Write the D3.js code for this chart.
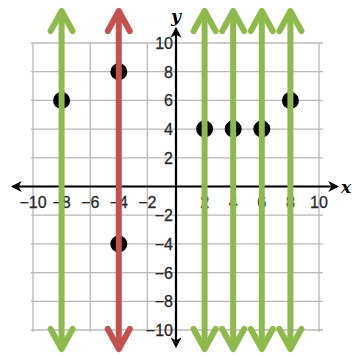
<!DOCTYPE html>
<html>
<head>
<meta charset="utf-8">
<script src="https://cdn.jsdelivr.net/npm/d3@7"></script>
<style>
  body { margin: 0; background: white; }
  .grid { stroke: #b8b8b8; stroke-width: 1.3; }
  .axis { stroke: black; stroke-width: 2.2; }
  .tick { font-family: "Liberation Sans", Arial, sans-serif; font-size: 16px; fill: #2a2a2a; stroke: #2a2a2a; stroke-width: 0.3; }
  .green { stroke: #8db94d; }
  .red { stroke: #c4504f; }
</style>
</head>
<body>
<div id="chart"></div>
<script>
// points
var pointsX = [-8, -4, -4, 2, 4, 6, 8];
var pointsY = [6, 8, -4, 4, 4, 4, 6];
// vertical line test
var linesX = [-8, -4, 2, 4, 6, 8];
var linesPass = [true, false, true, true, true, true];
var ticks = [-10, -8, -6, -4, -2, 2, 4, 6, 8, 10];
var gridTicks = [-10, -8, -6, -4, -2, 0, 2, 4, 6, 8, 10];

var width = 356, height = 358;

var svg = d3.select("#chart")
  .append("svg")
  .attr("width", width)
  .attr("height", height);

var xscale = d3.scaleLinear().domain([-10, 10]).range([33, 319]);
var yscale = d3.scaleLinear().domain([-10, 10]).range([330, 43]);

// grid
svg.append("g")
  .selectAll("line")
  .data(gridTicks)
  .enter().append("line")
  .attr("class", "grid")
  .attr("x1", d => xscale(d))
  .attr("x2", d => xscale(d))
  .attr("y1", yscale(10))
  .attr("y2", yscale(-10) + 2);

svg.append("g")
  .selectAll("line")
  .data(gridTicks)
  .enter().append("line")
  .attr("class", "grid")
  .attr("x1", xscale(-10) - 2)
  .attr("x2", xscale(10) + 4)
  .attr("y1", d => yscale(d))
  .attr("y2", d => yscale(d));

// arrow markers for axes
var defs = svg.append("defs");
defs.append("marker")
  .attr("id", "ax")
  .attr("viewBox", "0 0 10 10")
  .attr("refX", 8)
  .attr("refY", 5)
  .attr("markerWidth", 5)
  .attr("markerHeight", 5)
  .attr("orient", "auto-start-reverse")
  .append("path")
  .attr("d", "M0,0 L10,5 L0,10 L3,5 Z")
  .attr("fill", "black");

// axes
svg.append("line")
  .attr("class", "axis")
  .attr("x1", 13).attr("x2", 337)
  .attr("y1", yscale(0)).attr("y2", yscale(0))
  .attr("marker-start", "url(#ax)")
  .attr("marker-end", "url(#ax)");

svg.append("line")
  .attr("class", "axis")
  .attr("x1", xscale(0)).attr("x2", xscale(0))
  .attr("y1", 29).attr("y2", 346)
  .attr("marker-start", "url(#ax)")
  .attr("marker-end", "url(#ax)");

svg.append("text")
  .attr("x", 341).attr("y", yscale(0) + 6)
  .attr("font-family", "DejaVu Serif, serif")
  .attr("font-style", "italic")
  .attr("font-weight", "bold")
  .attr("font-size", 17)
  .text("x");

svg.append("text")
  .attr("x", xscale(0) - 5).attr("y", 22)
  .attr("font-family", "DejaVu Serif, serif")
  .attr("font-style", "italic")
  .attr("font-weight", "bold")
  .attr("font-size", 17)
  .text("y");

// tick labels
var fmt = function (d) { return d < 0 ? "\u2212" + Math.abs(d) : "" + d; };

svg.append("g")
  .selectAll("text")
  .data(ticks)
  .enter().append("text")
  .attr("class", "tick")
  .attr("x", d => xscale(d))
  .attr("y", yscale(0) + 21)
  .attr("text-anchor", "middle")
  .text(fmt);

svg.append("g")
  .selectAll("text")
  .data(ticks)
  .enter().append("text")
  .attr("class", "tick")
  .attr("x", xscale(0) - 3)
  .attr("y", d => yscale(d) + 6)
  .attr("text-anchor", "end")
  .text(fmt);

// points
svg.append("g")
  .selectAll("circle")
  .data(pointsX)
  .enter().append("circle")
  .attr("cx", d => xscale(d))
  .attr("cy", (d, i) => yscale(pointsY[i]))
  .attr("r", 8.5)
  .attr("fill", "black");

// vertical lines with chevron arrows on both ends
var lineTop = 11, lineBottom = 349, arm = 11, armH = 20;
var vl = svg.append("g")
  .selectAll("g")
  .data(linesX)
  .enter().append("g")
  .attr("class", (d, i) => linesPass[i] ? "green" : "red")
  .attr("fill", "none")
  .attr("stroke-width", 6)
  .attr("stroke-linecap", "round")
  .attr("stroke-linejoin", "round");

vl.append("line")
  .attr("x1", d => xscale(d)).attr("x2", d => xscale(d))
  .attr("y1", lineTop + 2).attr("y2", lineBottom - 2)
  .attr("stroke-linecap", "butt");

vl.append("path")
  .attr("d", d => "M" + (xscale(d) - arm) + "," + (lineTop + armH) +
    "L" + xscale(d) + "," + lineTop +
    "L" + (xscale(d) + arm) + "," + (lineTop + armH));

vl.append("path")
  .attr("d", d => "M" + (xscale(d) - arm) + "," + (lineBottom - armH) +
    "L" + xscale(d) + "," + lineBottom +
    "L" + (xscale(d) + arm) + "," + (lineBottom - armH));
</script>
</body>
</html>
